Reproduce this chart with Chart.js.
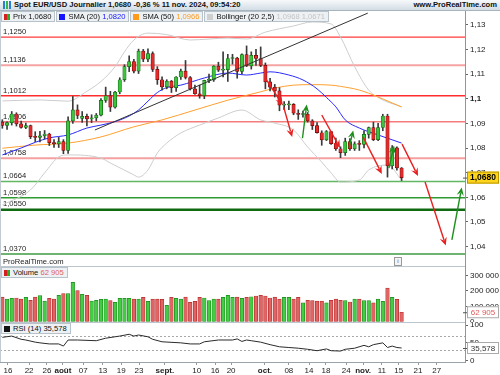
<!DOCTYPE html>
<html>
<head>
<meta charset="utf-8">
<title>Spot EUR/USD Journalier</title>
<script src="https://cdn.jsdelivr.net/npm/chart.js@4.4.1/dist/chart.umd.min.js"></script>
<style>
  body { margin: 0; background: #fff; }
  #wrap { position: relative; width: 500px; height: 375px; overflow: hidden; background: #fff; font-family: 'Liberation Sans', Arial, sans-serif; color: #111; }
  canvas { position: absolute; left: 0; }
  #title { position: absolute; left: 0; top: 0; width: 500px; height: 10px; background: linear-gradient(#f7f9fb, #d3dde5); border-bottom: 1px solid #a7b3bd; font-weight: bold; font-size: 7.6px; line-height: 10px; white-space: nowrap; z-index: 5; }
  #title .t { position: absolute; left: 14px; top: 0; }
  #title .w { position: absolute; right: 3px; top: 0; }
  #title .ic { position: absolute; left: 3px; top: 1px; width: 8px; height: 8px; background: linear-gradient(90deg, #2a7fd4 0 2px, transparent 2px 3px, #39b54a 3px 5px, transparent 5px 6px, #2a7fd4 6px 8px); }
  .row { position: absolute; left: 1px; display: flex; font-size: 7.6px; line-height: 9px; white-space: nowrap; z-index: 5; }
  .box { background: #edf1f4; border: 1px solid #b7c2cb; padding: 0 3px 0 2px; margin-right: 1px; display: flex; align-items: center; }
  .sq { display: inline-block; width: 6px; height: 6px; margin-right: 3px; }
  .rg { background: linear-gradient(90deg, #d42020 0 3px, #2cae2c 3px 6px); }
  .sep { position: absolute; left: 0; width: 465px; height: 1px; background: #bcc6ce; z-index: 4; }
  #leftline { position: absolute; left: 0; top: 10px; width: 1px; height: 352px; background: #c3cbd2; z-index: 4; }
  #brand { position: absolute; left: 3px; top: 257px; font-size: 7.6px; color: #222; z-index: 5; }
  #info { position: absolute; left: 394px; top: 257px; width: 6px; height: 7px; border: 1px solid #999; font-size: 6px; line-height: 7px; text-align: center; color: #555; background: #f4f4f4; z-index: 5; }
</style>
</head>
<body>
<div id="wrap">
  <canvas id="cPrice" width="500" height="256" style="top:10px"></canvas>
  <canvas id="cVol" width="500" height="56" style="top:266px"></canvas>
  <canvas id="cRsi" width="500" height="53" style="top:322px"></canvas>

  <div id="title"><span class="ic"></span><span class="t">Spot EUR/USD Journalier 1,0680 -0,36 % 11 nov. 2024, 09:54:20</span><span class="w">www.ProRealTime.com</span></div>
  <div class="row" style="top:11px">
    <span class="box"><i class="sq rg"></i>Prix 1,0680</span>
    <span class="box"><i class="sq" style="background:#1414ff"></i>SMA (20)&nbsp;<span style="color:#1414ff">1,0820</span></span>
    <span class="box"><i class="sq" style="background:#ff9a1a"></i>SMA (50)&nbsp;<span style="color:#ff9a1a">1,0966</span></span>
    <span class="box"><i class="sq" style="background:#cfcfcf"></i>Bollinger (20 2,5)&nbsp;<span style="color:#c4c4c4">1,0968 1,0671</span></span>
  </div>
  <div id="leftline"></div>
  <div id="brand">ProRealTime.com</div>
  <div id="info">i</div>
  <div class="sep" style="top:266px"></div>
  <div class="sep" style="top:322px"></div>
  <div class="row" style="top:267px">
    <span class="box"><i class="sq rg"></i>Volume&nbsp;<span style="color:#e06060">62 905</span></span>
  </div>
  <div class="row" style="top:323px">
    <span class="box"><i class="sq" style="background:#111"></i>RSI (14) 35,578</span>
  </div>
</div>

<script>
// daily candles, 15 juil. -> 11 nov. 2024 (index 0 = 15 juil.)
var candleOpen  = [1.0905,1.0892,1.0903,1.0938,1.0898,1.0884,1.0891,1.0846,1.0843,1.0849,1.0857,1.0822,1.0817,1.0826,1.0790,1.0910,1.0955,1.0920,1.0928,1.0918,
                   1.0922,1.0933,1.0993,1.1012,1.0966,1.1027,1.1077,1.1130,1.1151,1.1112,1.1193,1.1160,1.1183,1.1119,1.1077,1.1048,1.1071,1.1045,1.1088,1.1112,
                   1.1086,1.1040,1.1020,1.1012,1.1074,1.1076,1.1132,1.1116,1.1118,1.1163,1.1165,1.1111,1.1179,1.1133,1.1176,1.1163,1.1135,1.1068,1.1047,1.1032,
                   1.0974,1.0975,1.0977,1.0941,1.0936,1.0937,1.0910,1.0891,1.0862,1.0833,1.0867,1.0818,1.0797,1.0781,1.0826,1.0797,1.0817,1.0815,1.0855,1.0883,
                   1.0834,1.0883,1.0930,1.0728,1.0801,1.0719];
var candleHigh  = [1.0915,1.0906,1.0948,1.0943,1.0909,1.0901,1.0893,1.0866,1.0868,1.0871,1.0860,1.0834,1.0843,1.0834,1.0926,1.1009,1.0975,1.0948,1.0938,1.0935,
                   1.0940,1.1000,1.1047,1.1030,1.1030,1.1085,1.1138,1.1174,1.1160,1.1201,1.1200,1.1202,1.1190,1.1130,1.1089,1.1077,1.1074,1.1090,1.1120,1.1155,
                   1.1090,1.1055,1.1055,1.1075,1.1100,1.1134,1.1148,1.1190,1.1180,1.1180,1.1168,1.1182,1.1214,1.1190,1.1200,1.1210,1.1145,1.1083,1.1058,1.1045,
                   1.0988,1.0990,1.0980,1.0955,1.0950,1.0944,1.0915,1.0903,1.0870,1.0871,1.0868,1.0840,1.0805,1.0840,1.0838,1.0825,1.0830,1.0870,1.0885,1.0905,
                   1.0900,1.0937,1.0937,1.0810,1.0805,1.0721];
var candleLow   = [1.0880,1.0875,1.0893,1.0889,1.0880,1.0878,1.0838,1.0826,1.0825,1.0837,1.0810,1.0802,1.0802,1.0777,1.0778,1.0900,1.0919,1.0904,1.0890,1.0903,
                   1.0910,1.0930,1.0985,1.0948,1.0962,1.1020,1.1070,1.1110,1.1105,1.1102,1.1150,1.1150,1.1110,1.1058,1.1035,1.1040,1.1025,1.1030,1.1078,1.1080,
                   1.1035,1.1017,1.1002,1.1000,1.1065,1.1070,1.1110,1.1088,1.1070,1.1140,1.1083,1.1100,1.1130,1.1120,1.1135,1.1130,1.1040,1.1032,1.1007,1.0951,
                   1.0955,1.0955,1.0935,1.0916,1.0925,1.0905,1.0875,1.0860,1.0811,1.0830,1.0815,1.0790,1.0761,1.0770,1.0790,1.0790,1.0790,1.0800,1.0840,1.0830,
                   1.0830,1.0870,1.0682,1.0715,1.0710,1.0668];
var candleClose = [1.0892,1.0903,1.0938,1.0898,1.0884,1.0891,1.0846,1.0843,1.0849,1.0857,1.0822,1.0817,1.0826,1.0790,1.0910,1.0955,1.0932,1.0928,1.0918,1.0922,
                   1.0933,1.0993,1.1012,1.0966,1.1027,1.1077,1.1130,1.1151,1.1112,1.1193,1.1160,1.1183,1.1119,1.1077,1.1048,1.1071,1.1045,1.1088,1.1112,1.1086,
                   1.1040,1.1020,1.1012,1.1074,1.1076,1.1132,1.1116,1.1118,1.1163,1.1165,1.1111,1.1179,1.1133,1.1176,1.1163,1.1135,1.1068,1.1047,1.1032,1.0974,
                   1.0975,1.0977,1.0941,1.0936,1.0937,1.0910,1.0891,1.0862,1.0833,1.0867,1.0818,1.0797,1.0781,1.0826,1.0797,1.0817,1.0815,1.0855,1.0883,1.0834,
                   1.0883,1.0930,1.0728,1.0801,1.0719,1.0680];
var volumes = [161000,148000,153000,155000,148000,159000,140000,161000,170000,135000,153000,148000,172000,183000,183000,256000,202000,178000,172000,135000,
               140000,146000,148000,138000,127000,153000,153000,153000,148000,148000,159000,133000,148000,148000,146000,108000,159000,153000,148000,161000,
               127000,133000,159000,155000,138000,148000,148000,159000,172000,159000,161000,153000,159000,163000,168000,172000,168000,155000,161000,148000,
               159000,159000,148000,159000,123000,140000,138000,135000,135000,123000,140000,148000,140000,138000,129000,148000,148000,138000,138000,123000,
               148000,133000,219000,159000,146000,62905];

// indicator readings [candle index, value]
var sma20 = [[0,1.0772],[4,1.0800],[7,1.0823],[10,1.0841],[14,1.0853],[18,1.0881],[21,1.0893],[24,1.0907],[27,1.0930],[29,1.0954],[31,1.0990],[33,1.1025],
             [35,1.1045],[38,1.1055],[43,1.1084],[48,1.1104],[52,1.1096],[55,1.1104],[57,1.1109],[61,1.1096],[64,1.1076],[67,1.1040],[69,1.1005],[71,1.0967],
             [73,1.0914],[76,1.0881],[80,1.0853],[85,1.0820]];
var sma50 = [[0,1.0799],[7,1.0812],[14,1.0820],[21,1.0845],[28,1.0886],[34,1.0914],[41,1.0954],[48,1.0994],[55,1.1028],[58,1.1043],[62,1.1055],[66,1.1057],
             [70,1.1055],[72,1.1050],[76,1.1035],[80,1.1007],[85,1.0966]];
var bollUp = [[0,1.0991],[8,1.0995],[14,1.0990],[18,1.1030],[21,1.1070],[24,1.1130],[26,1.1190],[28,1.1238],[31,1.1266],[35,1.1260],[40,1.1238],[44,1.1242],
              [48,1.1246],[52,1.1242],[56,1.1270],[62,1.1295],[66,1.1311],[70,1.1303],[72,1.1250],[75,1.1130],[78,1.1035],[81,1.0995],[85,1.0968]];
var bollDown = [[0,1.0569],[6,1.0630],[9,1.0699],[12,1.0764],[14,1.0772],[21,1.0759],[23,1.0739],[28,1.0691],[29,1.0682],[31,1.0711],[33,1.0780],[35,1.0820],
                [38,1.0861],[42,1.0893],[46,1.0922],[51,1.0954],[55,1.0914],[58,1.0901],[62,1.0873],[65,1.0804],[68,1.0743],[70,1.0699],[72,1.0662],[76,1.0670],
                [78,1.0711],[82,1.0731],[85,1.0671]];
var rsi14 = [[0,65.5],[2,69],[4,60],[5,58],[7,52],[8,50],[10,47],[12,47],[13,41],[14,58],[16,58],[20,56],[22,63],[25,69],[27,74],[28,69],[29,72],[31,67],
             [32,60],[34,53],[38,50],[40,47],[42,47],[43,53],[46,58],[49,58],[50,61],[51,54],[52,58],[53,56],[55,52],[57,45],[59,39],[61,37],[63,35],[65,32],
             [67,28],[69,33],[70,28],[72,27],[73,32],[75,35],[77,43],[78,39],[79,45],[81,50],[82,37],[83,41],[84,37],[85,35.578]];

// drawn levels, trend line and arrows (candle index, price)
var levelPrices = [1.1250, 1.1136, 1.1012, 1.0906, 1.0758, 1.0664, 1.0598, 1.0550, 1.0370];
var levelColor  = ['#ff3b3b', '#f5a3a3', '#ff2e2e', '#f47c7c', '#f5a0a0', '#62b862', '#2f9a2f', '#0f6b0f', '#3f9a45'];
var levelWidth  = [1.3, 2, 1.5, 1.5, 2, 1.5, 1.5, 2.5, 1.5];
var trendLine = [[19.7, 1.0873], [77.8, 1.1347]];
var arrows = [[56.1, 1.1080, 59.7, 1.0974], [59.9, 1.0966, 61.7, 1.0845], [63.9, 1.0840, 64.8, 1.0976], [68.0, 1.0934, 71.9, 1.0800],
              [73.8, 1.0800, 74.7, 1.0871], [76.8, 1.0845, 80.8, 1.0695], [82.3, 1.0719, 83.4, 1.0810], [85.1, 1.0816, 88.5, 1.0686],
              [90.0, 1.0662, 94.4, 1.0405], [95.7, 1.0427, 97.8, 1.0640]];
var arrowColor = ['#e82020', '#e82020', '#1d8f1d', '#e82020', '#1d8f1d', '#e82020', '#1d8f1d', '#e82020', '#e82020', '#1d8f1d'];

// axis ticks
var priceTicks = [1.04, 1.05, 1.06, 1.07, 1.08, 1.09, 1.10, 1.11, 1.12, 1.13];
var volTicks = [0, 100000, 200000, 300000];
var rsiTicks = [0, 50, 100];
var dateTickPos  = [1.2, 5.7, 9.5, 12.9, 17.2, 21.4, 25.3, 29.1, 34.6, 41.4, 45.3, 48.7, 55.9, 61.0, 65.3, 68.9, 73.2, 76.8, 80.8, 84.4, 88.5, 92.5];
var dateTickText = ['16', '22', '26', 'août', '07', '13', '19', '23', 'sept.', '10', '16', '20', 'oct.', '08', '14', '18', '24', 'nov.', '11', '15', '21', '27'];

var X_MIN = -0.5, X_MAX = 98.5;
var lastIdx = candleClose.length - 1;

Chart.defaults.font.family = "'Liberation Sans', Arial, sans-serif";
Chart.defaults.font.size = 8;
Chart.defaults.color = '#222';
Chart.defaults.animation = false;

function isUp(i) { return candleClose[i] >= candleOpen[i]; }
function pairs(arr) { return arr.map(function (p) { return {x: p[0], y: p[1]}; }); }
function fixAxis(scale) { scale.width = 35; scale.paddingTop = 0; scale.paddingBottom = 0; }
function frNum(v, d) { return v.toFixed(d).replace('.', ','); }
function spaced(v) { return String(v).replace(/\B(?=(\d{3})+(?!\d))/g, ' '); }

function hiddenX() {
    return { type: 'linear', min: X_MIN, max: X_MAX, offset: false, display: false };
}

function tag(ctx, chart, y, text, bg, fg, border, bold) {
    var x0 = chart.chartArea.right + 1;
    ctx.save();
    ctx.strokeStyle = '#555';
    ctx.beginPath(); ctx.moveTo(x0 - 3, y + 0.5); ctx.lineTo(x0 + 1, y + 0.5); ctx.stroke();
    ctx.fillStyle = bg; ctx.strokeStyle = border; ctx.lineWidth = 1;
    ctx.fillRect(x0 + 1, y - 6, 32, 12);
    ctx.strokeRect(x0 + 1.5, y - 5.5, 31, 11);
    ctx.fillStyle = fg;
    ctx.font = (bold ? 'bold 8.5px' : '8px') + " 'Liberation Sans', Arial, sans-serif";
    ctx.textAlign = 'center'; ctx.textBaseline = 'middle';
    ctx.fillText(text, x0 + 17, y + 0.5);
    ctx.restore();
}

function drawArrow(ctx, x1, y1, x2, y2, col) {
    var a = Math.atan2(y2 - y1, x2 - x1), L = 8, W = 3.6;
    var ca = Math.cos(a), sa = Math.sin(a);
    ctx.strokeStyle = col; ctx.fillStyle = col; ctx.lineWidth = 1.4;
    ctx.beginPath(); ctx.moveTo(x1, y1); ctx.lineTo(x2 - L * 0.7 * ca, y2 - L * 0.7 * sa); ctx.stroke();
    ctx.beginPath();
    ctx.moveTo(x2, y2);
    ctx.lineTo(x2 - L * ca + W * sa, y2 - L * sa - W * ca);
    ctx.lineTo(x2 - L * 0.65 * ca, y2 - L * 0.65 * sa);
    ctx.lineTo(x2 - L * ca - W * sa, y2 - L * sa + W * ca);
    ctx.closePath(); ctx.fill();
}

var priceDecor = {
    id: 'priceDecor',
    beforeDatasetsDraw: function (chart) {
        var ctx = chart.ctx, a = chart.chartArea, ys = chart.scales.y;
        ctx.save();
        levelPrices.forEach(function (p, k) {
            var py = ys.getPixelForValue(p);
            ctx.strokeStyle = levelColor[k]; ctx.lineWidth = levelWidth[k];
            ctx.beginPath(); ctx.moveTo(a.left, py); ctx.lineTo(a.right, py); ctx.stroke();
            ctx.fillStyle = '#222';
            ctx.font = "7.6px 'Liberation Sans', Arial, sans-serif";
            ctx.textBaseline = 'bottom';
            ctx.fillText(frNum(p, 4), a.left + 3, py - 1.5);
        });
        ctx.restore();
    },
    afterDatasetsDraw: function (chart) {
        var ctx = chart.ctx, xs = chart.scales.x, ys = chart.scales.y;
        ctx.save();
        ctx.strokeStyle = '#333'; ctx.lineWidth = 1;
        ctx.beginPath();
        ctx.moveTo(xs.getPixelForValue(trendLine[0][0]), ys.getPixelForValue(trendLine[0][1]));
        ctx.lineTo(xs.getPixelForValue(trendLine[1][0]), ys.getPixelForValue(trendLine[1][1]));
        ctx.stroke();
        arrows.forEach(function (r, k) {
            drawArrow(ctx, xs.getPixelForValue(r[0]), ys.getPixelForValue(r[1]),
                xs.getPixelForValue(r[2]), ys.getPixelForValue(r[3]), arrowColor[k]);
        });
        ctx.restore();
    },
    afterDraw: function (chart) {
        var y = chart.scales.y.getPixelForValue(candleClose[lastIdx]);
        tag(chart.ctx, chart, y, frNum(candleClose[lastIdx], 4), '#ffd51c', '#000', '#b89400', true);
    }
};

var priceChart = new Chart(document.getElementById('cPrice'), {
    type: 'bar',
    data: {
        datasets: [{
            label: 'corps', order: 0, grouped: false,
            data: candleOpen.map(function (o, i) { return {x: i, y: [o, candleClose[i]]}; }),
            backgroundColor: function (c) { return isUp(c.dataIndex) ? '#3cc43c' : '#e42a2a'; },
            borderColor: function (c) { return isUp(c.dataIndex) ? '#126a12' : '#6e0a0a'; },
            borderWidth: 0.7, borderSkipped: false, barThickness: 3.4, minBarLength: 1
        }, {
            label: 'meches', order: 1, grouped: false,
            data: candleLow.map(function (l, i) { return {x: i, y: [l, candleHigh[i]]}; }),
            backgroundColor: '#3a3a3a', barThickness: 1
        }, {
            type: 'line', label: 'SMA (20)', order: 2, data: pairs(sma20),
            borderColor: '#2a2aff', borderWidth: 1, pointRadius: 0, cubicInterpolationMode: 'monotone'
        }, {
            type: 'line', label: 'SMA (50)', order: 3, data: pairs(sma50),
            borderColor: '#ffa030', borderWidth: 1, pointRadius: 0, cubicInterpolationMode: 'monotone'
        }, {
            type: 'line', label: 'Bollinger haut', order: 4, data: pairs(bollUp),
            borderColor: '#cdcdcd', borderWidth: 1, pointRadius: 0, cubicInterpolationMode: 'monotone'
        }, {
            type: 'line', label: 'Bollinger bas', order: 4, data: pairs(bollDown),
            borderColor: '#cdcdcd', borderWidth: 1, pointRadius: 0, cubicInterpolationMode: 'monotone'
        }]
    },
    options: {
        responsive: false,
        layout: { padding: 0 },
        plugins: { legend: { display: false }, tooltip: { enabled: false } },
        scales: {
            x: hiddenX(),
            y: {
                type: 'linear', position: 'right', min: 1.03215, max: 1.13597,
                afterBuildTicks: function (s) { s.ticks = priceTicks.map(function (v) { return {value: v}; }); },
                afterFit: fixAxis,
                ticks: {
                    padding: 2,
                    callback: function (v) { return String(+v.toFixed(2)).replace('.', ','); },
                    font: function (c) { return {size: 8, weight: (c.tick && Math.abs(c.tick.value - 1.1) < 1e-6) ? 'bold' : 'normal'}; }
                },
                grid: { drawOnChartArea: false, tickLength: 3, color: '#666' },
                border: { color: '#8c969e' }
            }
        }
    },
    plugins: [priceDecor]
});

var volDecor = {
    id: 'volDecor',
    afterDraw: function (chart) {
        var y = chart.scales.y.getPixelForValue(volumes[lastIdx]);
        tag(chart.ctx, chart, y, spaced(volumes[lastIdx]), '#fff', '#e05a5a', '#aaa', false);
    }
};

var volChart = new Chart(document.getElementById('cVol'), {
    type: 'bar',
    data: {
        datasets: [{
            label: 'Volume', grouped: false,
            data: volumes.map(function (v, i) { return {x: i, y: v}; }),
            backgroundColor: function (c) { return isUp(c.dataIndex) ? '#45cc45' : '#e06464'; },
            borderColor: function (c) { return isUp(c.dataIndex) ? '#1a8a1a' : '#b42a2a'; },
            borderWidth: 0.7, borderSkipped: false, barThickness: 3.6
        }]
    },
    options: {
        responsive: false,
        layout: { padding: 0 },
        plugins: { legend: { display: false }, tooltip: { enabled: false } },
        scales: {
            x: hiddenX(),
            y: {
                type: 'linear', position: 'right', min: 0, max: 361290,
                afterBuildTicks: function (s) { s.ticks = volTicks.map(function (v) { return {value: v}; }); },
                afterFit: fixAxis,
                ticks: { padding: 2, callback: function (v) { return spaced(v); } },
                grid: { drawOnChartArea: false, tickLength: 3, color: '#666' },
                border: { color: '#8c969e' }
            }
        }
    },
    plugins: [volDecor]
});

var rsiDecor = {
    id: 'rsiDecor',
    beforeDatasetsDraw: function (chart) {
        var ctx = chart.ctx, a = chart.chartArea, ys = chart.scales.y;
        ctx.save();
        ctx.strokeStyle = '#a8a8a8'; ctx.lineWidth = 1; ctx.setLineDash([2, 2]);
        [70, 30].forEach(function (v) {
            var py = Math.round(ys.getPixelForValue(v)) + 0.5;
            ctx.beginPath(); ctx.moveTo(a.left, py); ctx.lineTo(a.right, py); ctx.stroke();
        });
        ctx.restore();
    },
    afterDraw: function (chart) {
        var v = rsi14[rsi14.length - 1][1];
        tag(chart.ctx, chart, chart.scales.y.getPixelForValue(v), frNum(v, 3), '#fff', '#333', '#aaa', false);
    }
};

var rsiChart = new Chart(document.getElementById('cRsi'), {
    type: 'line',
    data: {
        datasets: [{
            label: 'RSI (14)', data: pairs(rsi14),
            borderColor: '#2a2a2a', borderWidth: 1, pointRadius: 0, tension: 0
        }]
    },
    options: {
        responsive: false,
        layout: { padding: 0 },
        plugins: { legend: { display: false }, tooltip: { enabled: false } },
        scales: {
            x: {
                type: 'linear', min: X_MIN, max: X_MAX, offset: false,
                afterBuildTicks: function (s) { s.ticks = dateTickPos.map(function (v) { return {value: v}; }); },
                afterFit: function (s) { s.height = 13; s.paddingLeft = 0; s.paddingRight = 0; },
                ticks: {
                    autoSkip: false, maxRotation: 0, padding: 1,
                    callback: function (v, i) { return dateTickText[i]; },
                    font: function (c) { var t = dateTickText[c.index] || ''; return {size: 8, weight: /[a-z]/.test(t) ? 'bold' : 'normal'}; }
                },
                grid: { drawOnChartArea: false, tickLength: 3, color: '#999' },
                border: { color: '#9aa3aa' }
            },
            y: {
                type: 'linear', position: 'right', min: -3.6, max: 108.4,
                afterBuildTicks: function (s) { s.ticks = rsiTicks.map(function (v) { return {value: v}; }); },
                afterFit: fixAxis,
                ticks: { padding: 2 },
                grid: { drawOnChartArea: false, tickLength: 3, color: '#666' },
                border: { color: '#8c969e' }
            }
        }
    },
    plugins: [rsiDecor]
});
</script>
</body>
</html>
